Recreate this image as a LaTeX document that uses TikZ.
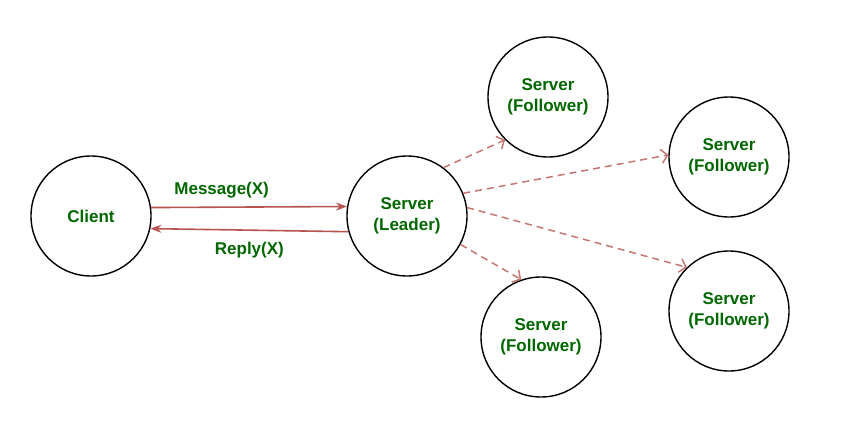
\documentclass[tikz,border=0pt]{standalone}
\usepackage{fontspec}
\setmainfont{Liberation Sans}
\usetikzlibrary{arrows.meta}

\definecolor{msgred}{RGB}{184,84,80}
\definecolor{txtgreen}{RGB}{0,102,0}

\begin{document}
\begin{tikzpicture}[
		x=1pt, y=-1pt,
		every node/.style = {
			font=\fontsize{17}{21}\selectfont\bfseries,
			text=txtgreen,
			align=center
		},
		proc/.style={circle, draw, line width=1.4pt, minimum size=120pt, inner sep=0pt},
		norm/.style={draw=msgred, line width=1.6pt, -{Stealth[length=11pt, width=8pt]}},
		emph/.style={draw=msgred!80, line width=1.5pt, dash pattern=on 7pt off 5pt, -{Straight Barb[length=6pt, width=14pt]}}
		]
		\useasboundingbox (0,0) rectangle (852,428);
		\node[proc] (client) at (91,216) {Client};
		\node[proc] (leader) at (407,216) {Server\\(Leader)};
		\node[proc] (fola) at (548,97) {Server\\(Follower)};
		\node[proc] (folb) at (729,157) {Server\\(Follower)};
		\node[proc] (folc) at (729,311) {Server\\(Follower)};
		\node[proc] (fold) at (541,337) {Server\\(Follower)};
		
		% client <-> leader
		\draw[norm] (client.8) -- (leader.171) node[pos=0.36, above=5pt] {Message(X)};
		\draw[norm] (leader.195) -- (client.348) node[midway, below=8pt] {Reply(X)};
		
		% leader -> followers
		\draw[emph] (leader.53) -- (fola.225);
		\draw[emph] (leader.22) -- (folb.178);
		\draw[emph] (leader.8) -- (folc.134);
		\draw[emph] (leader.332) -- (fold.109);
	\end{tikzpicture}
\end{document}
